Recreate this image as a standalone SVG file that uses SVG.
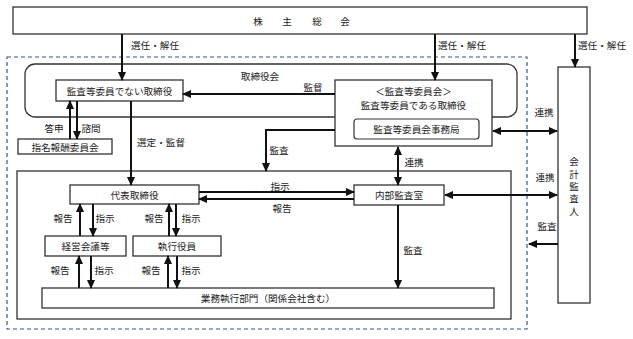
<svg xmlns="http://www.w3.org/2000/svg" width="633" height="339" viewBox="0 0 633 339">
<defs>
<marker id="ah" markerUnits="userSpaceOnUse" markerWidth="9" markerHeight="8" refX="8" refY="4" orient="auto-start-reverse" viewBox="0 0 9 8">
<path d="M0,0 L9,4 L0,8 Z" fill="#111"/>
</marker>
</defs>
<style>
text{font-family:"Noto Sans CJK JP","Noto Sans CJK SC",sans-serif;font-size:9.6px;fill:#222;dominant-baseline:central}
.c{text-anchor:middle}
.v{writing-mode:vertical-rl;letter-spacing:2.7px}
.box{fill:#fff;stroke:#333;stroke-width:1.3}
.ln{fill:none;stroke:#111;stroke-width:2}
.a{marker-end:url(#ah)}
.d{marker-start:url(#ah);marker-end:url(#ah)}
</style>
<rect width="633" height="339" fill="#fff"/>
<rect x="7" y="57" width="520" height="272" fill="none" stroke="#2e5a8a" stroke-width="1.2" stroke-dasharray="4,3"/>
<g id="shareholders"><rect class="box" x="13" y="7" width="574" height="27"/>
<text x="258" y="21" class="c">株</text><text x="287" y="21" class="c">主</text><text x="317" y="21" class="c">総</text><text x="345" y="21" class="c">会</text></g>
<g id="board"><rect x="25" y="64" width="492" height="53" rx="10" fill="none" stroke="#333" stroke-width="1.3"/>
<text x="260" y="76" class="c">取締役会</text></g>
<g id="exec-area"><rect x="17" y="171" width="494" height="148" fill="none" stroke="#333" stroke-width="1.3"/></g>
<g id="non-audit-directors"><rect class="box" x="56" y="80" width="127" height="21"/><text x="119.5" y="91" class="c">監査等委員でない取締役</text></g>
<g id="audit-committee"><rect class="box" x="335" y="80" width="157" height="66"/>
<text x="413.5" y="91" class="c">＜監査等委員会＞</text><text x="413.5" y="105" class="c">監査等委員である取締役</text>
<rect x="354" y="119" width="125" height="20" rx="3" fill="#fff" stroke="#333" stroke-width="1.2"/><text x="416.5" y="129" class="c">監査等委員会事務局</text></g>
<g id="nomination"><rect class="box" x="18" y="139" width="94" height="15"/><text x="65" y="146.5" class="c">指名報酬委員会</text></g>
<g id="ceo"><rect class="box" x="70" y="185" width="129" height="19"/><text x="134.5" y="194.5" class="c">代表取締役</text></g>
<g id="internal-audit"><rect class="box" x="354" y="185" width="90" height="20"/><text x="399" y="195" class="c">内部監査室</text></g>
<g id="mgmt-meeting"><rect class="box" x="45" y="236" width="81" height="20"/><text x="85.5" y="246" class="c">経営会議等</text></g>
<g id="officers"><rect class="box" x="133" y="236" width="88" height="20"/><text x="177" y="246" class="c">執行役員</text></g>
<g id="operations"><rect class="box" x="42" y="288" width="452" height="20"/><text x="268" y="298" class="c">業務執行部門（関係会社含む）</text></g>
<g id="auditor"><rect class="box" x="558" y="67" width="32" height="236"/>
<text x="574" y="157" class="v">会計監査人</text></g>
<g id="connectors">
<line class="ln a" x1="122" y1="34" x2="122" y2="80"/>
<line class="ln a" x1="435" y1="34" x2="435" y2="80"/>
<line class="ln a" x1="575" y1="34" x2="575" y2="67"/>
<line class="ln a" x1="335" y1="94" x2="183" y2="94"/>
<line class="ln d" x1="493" y1="131" x2="557" y2="131"/>
<line class="ln d" x1="445" y1="195" x2="557" y2="195"/>
<line class="ln d" x1="398" y1="147" x2="398" y2="185"/>
<polyline class="ln a" points="335,130 266,130 266,171"/>
<line class="ln a" x1="131" y1="101" x2="131" y2="185"/>
<line class="ln a" x1="70" y1="139" x2="70" y2="101"/>
<line class="ln a" x1="77" y1="101" x2="77" y2="139"/>
<line class="ln a" x1="199" y1="192" x2="354" y2="192"/>
<line class="ln a" x1="354" y1="199" x2="199" y2="199"/>
<line class="ln a" x1="80" y1="236" x2="80" y2="204"/>
<line class="ln a" x1="93" y1="204" x2="93" y2="236"/>
<line class="ln a" x1="169" y1="236" x2="169" y2="204"/>
<line class="ln a" x1="176" y1="204" x2="176" y2="236"/>
<line class="ln a" x1="79" y1="288" x2="79" y2="256"/>
<line class="ln a" x1="91" y1="256" x2="91" y2="288"/>
<line class="ln a" x1="168" y1="288" x2="168" y2="256"/>
<line class="ln a" x1="177" y1="256" x2="177" y2="288"/>
<line class="ln a" x1="398" y1="205" x2="398" y2="288"/>
<line class="ln a" x1="558" y1="244" x2="529" y2="244"/>
</g>
<g id="labels">
<text x="155" y="45" class="c">選任・解任</text>
<text x="462" y="45" class="c">選任・解任</text>
<text x="602" y="45" class="c">選任・解任</text>
<text x="313" y="87" class="c">監督</text>
<text x="544" y="112" class="c">連携</text>
<text x="545" y="177" class="c">連携</text>
<text x="414" y="162" class="c">連携</text>
<text x="279" y="150" class="c">監査</text>
<text x="161" y="142" class="c">選定・監督</text>
<text x="54" y="128" class="c">答申</text>
<text x="91" y="128" class="c">諮問</text>
<text x="280" y="186" class="c">指示</text>
<text x="282" y="208" class="c">報告</text>
<text x="63" y="218" class="c">報告</text>
<text x="105" y="218" class="c">指示</text>
<text x="154" y="218" class="c">報告</text>
<text x="191" y="218" class="c">指示</text>
<text x="60" y="270" class="c">報告</text>
<text x="104" y="270" class="c">指示</text>
<text x="151" y="270" class="c">報告</text>
<text x="191" y="270" class="c">指示</text>
<text x="413" y="250" class="c">監査</text>
<text x="547" y="226" class="c">監査</text>
</g>
</svg>
